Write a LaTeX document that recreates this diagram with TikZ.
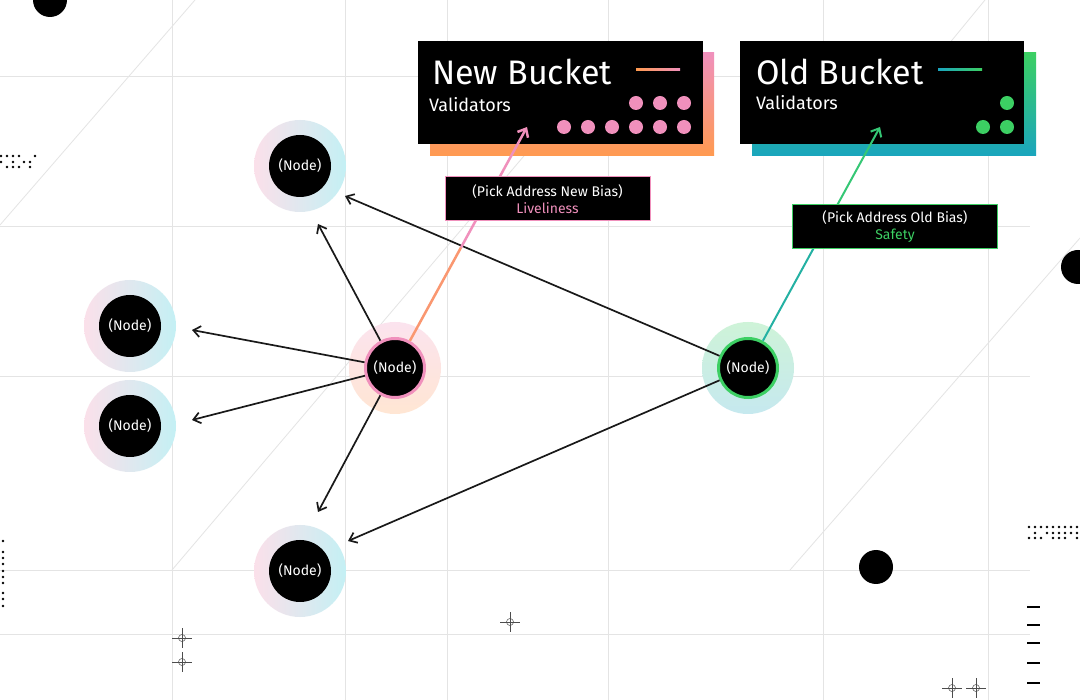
\documentclass[tikz,border=0pt]{standalone}
\usepackage{fontspec}
\setmainfont{Fira Sans}
\usetikzlibrary{arrows.meta,calc}
\definecolor{pk}{HTML}{F090BC}
\definecolor{og}{HTML}{FF9A50}
\definecolor{gr}{HTML}{3CCF63}
\definecolor{tl}{HTML}{1AA5BE}
\definecolor{gridc}{HTML}{E4E4E4}
\definecolor{rpk}{HTML}{FBE0EA}
\definecolor{rcy}{HTML}{C4F0F4}
\tikzset{
 ring/.style={circle,minimum size=92pt,inner sep=0pt,shading=axis,shading angle=90,left color=rpk,right color=rcy},
 core/.style={circle,fill=black,minimum size=62pt,inner sep=0pt,text=white,font=\fontsize{14}{14}\selectfont},
 edge/.style={-{Straight Barb[length=7pt,width=11pt]},line width=1.7pt,draw=black!90},
 lbl/.style={fill=black,text=white,align=center,font=\fontsize{14}{16}\selectfont,minimum width=205pt,minimum height=44pt,inner sep=0pt,line width=1pt},
 gline/.style={draw=gridc,line width=0.8pt},
 cross/.style={draw=black!70,line width=0.5pt},
}
\begin{document}
\begin{tikzpicture}[x=1pt,y=-1pt]
\useasboundingbox (0,0) rectangle (1080,700);
\fill[white] (0,0) rectangle (1080,700);
% grid
\foreach \x in {172,345,447,608,823,988} \draw[gline] (\x,0) -- (\x,700);
\foreach \y in {76,226,376,570,634} \draw[gline] (0,\y) -- (1030,\y);
\draw[gline] (0,225) -- (195,0);
\draw[gline] (172,570) -- (580,90);
\draw[gline] (790,570) -- (1080,238);
\draw[gline] (870,140) -- (985,0);
% decorative circles
\fill (50,0) circle (17);
\fill (1078,267) circle (17);
\fill (876,567) circle (17);
% dot patterns
\foreach \x in {1,7,13,19,35} \fill (\x,156) circle (1.4);
\foreach \x in {1,13,24,30} \fill (\x,162) circle (1.4);
\foreach \x in {7,13,19,30} \fill (\x,167) circle (1.4);
\foreach \y in {541,552,558,564,571,577,583,593,599,606} \fill (3,\y) circle (1.4);
\foreach \x in {1029,1035,1041,1047,1053,1059,1065,1071,1077} \fill (\x,527) circle (1.4);
\foreach \x in {1035,1047,1053,1059,1065,1071,1077} \fill (\x,533) circle (1.4);
\foreach \x in {1029,1035,1041,1053,1059,1065,1077} \fill (\x,538) circle (1.4);
\foreach \y in {607,625,643,663,683} \draw[line width=2pt] (1027,\y) -- (1040,\y);
% crosshairs
\foreach \p in {(182,638),(182,662),(510,622),(952,688),(976,688)} {
 \draw[cross] \p ++(-10,0) -- ++(20,0); \draw[cross] \p ++(0,-10) -- ++(0,20); \draw[cross] \p circle (3.5);}
% bucket boxes
\shade[top color=pk,bottom color=og] (430,53) rectangle (714,156);
\node[fill=black,minimum width=285pt,minimum height=103pt,inner sep=0pt,anchor=north west] (nb) at (418,41) {};
\shade[top color=gr,bottom color=tl] (752,53) rectangle (1036,156);
\node[fill=black,minimum width=284pt,minimum height=103pt,inner sep=0pt,anchor=north west] (ob) at (740,41) {};
\node[anchor=west,text=white,font=\fontsize{34}{34}\selectfont,inner sep=0pt] (nbt) at (432,72) {New Bucket};
\node[anchor=west,text=white,font=\fontsize{18}{18}\selectfont,inner sep=0pt] (nbv) at (429,105) {Validators};
\shade[left color=og,right color=pk] (636,69) rectangle (680,71);
\foreach \x in {636,660,684} \fill[pk] (\x,103) circle (7);
\foreach \x in {564,588,612,636,660,684} \fill[pk] (\x,127) circle (7);
\node[anchor=west,text=white,font=\fontsize{34}{34}\selectfont,inner sep=0pt] (obt) at (756,72) {Old Bucket};
\node[anchor=west,text=white,font=\fontsize{18}{18}\selectfont,inner sep=0pt] (obv) at (756,103) {Validators};
\shade[left color=tl,right color=gr] (938,69) rectangle (982,71);
\fill[gr] (1007,103) circle (7);
\foreach \x in {983,1007} \fill[gr] (\x,127) circle (7);
% nodes
\node[ring] (ra) at (300,166) {}; \node[core] (a) at (300,166) {(Node)};
\node[ring] (rb) at (130,326) {}; \node[core] (b) at (130,326) {(Node)};
\node[ring] (rc) at (130,426) {}; \node[core] (c) at (130,426) {(Node)};
\node[ring] (rd) at (300,571) {}; \node[core] (d) at (300,571) {(Node)};
\node[ring,shading angle=0,top color=pk!25,bottom color=og!25] (rm) at (395,368) {};
\node[ring,shading angle=0,top color=gr!25,bottom color=tl!25] (ro) at (748,368) {};
\coordinate (na) at (318,224); \coordinate (nb1) at (192,330); \coordinate (nc) at (192,420);
\coordinate (nd) at (318,512); \coordinate (oa) at (345,196); \coordinate (od) at (348,541);
\coordinate (pn) at (527,127); \coordinate (po) at (880,127);
\node[core,draw=pk,line width=3pt,minimum size=59pt] (m) at (395,368) {(Node)};
\node[core,draw=gr,line width=3pt,minimum size=59pt] (o) at (748,368) {(Node)};
\draw[edge] (m) -- (na);
\draw[edge] (m) -- (nb1);
\draw[edge] (m) -- (nc);
\draw[edge] (m) -- (nd);
\draw[edge] (o) -- (oa);
\draw[edge] (o) -- (od);
\coordinate (mid1) at ($(m)!0.5!(pn)$);
\coordinate (mid2) at ($(o)!0.5!(po)$);
\draw[line width=2.5pt,og!70!pk] (m) -- (mid1);
\draw[-{Straight Barb[length=7pt,width=12pt]},line width=2.5pt,pk] (mid1) -- (pn);
\draw[line width=2pt,tl!70!gr] (o) -- (mid2);
\draw[-{Straight Barb[length=7pt,width=12pt]},line width=2pt,gr!80!tl] (mid2) -- (po);
% labels
\node[lbl,draw=pk] (ln) at (547.5,199) {(Pick Address New Bias)\\[1pt]{\color{pk}Liveliness}};
\node[lbl,draw=gr] (lo) at (895,227) {(Pick Address Old Bias)\\[1pt]{\color{gr}Safety}};
\end{tikzpicture}
\end{document}
